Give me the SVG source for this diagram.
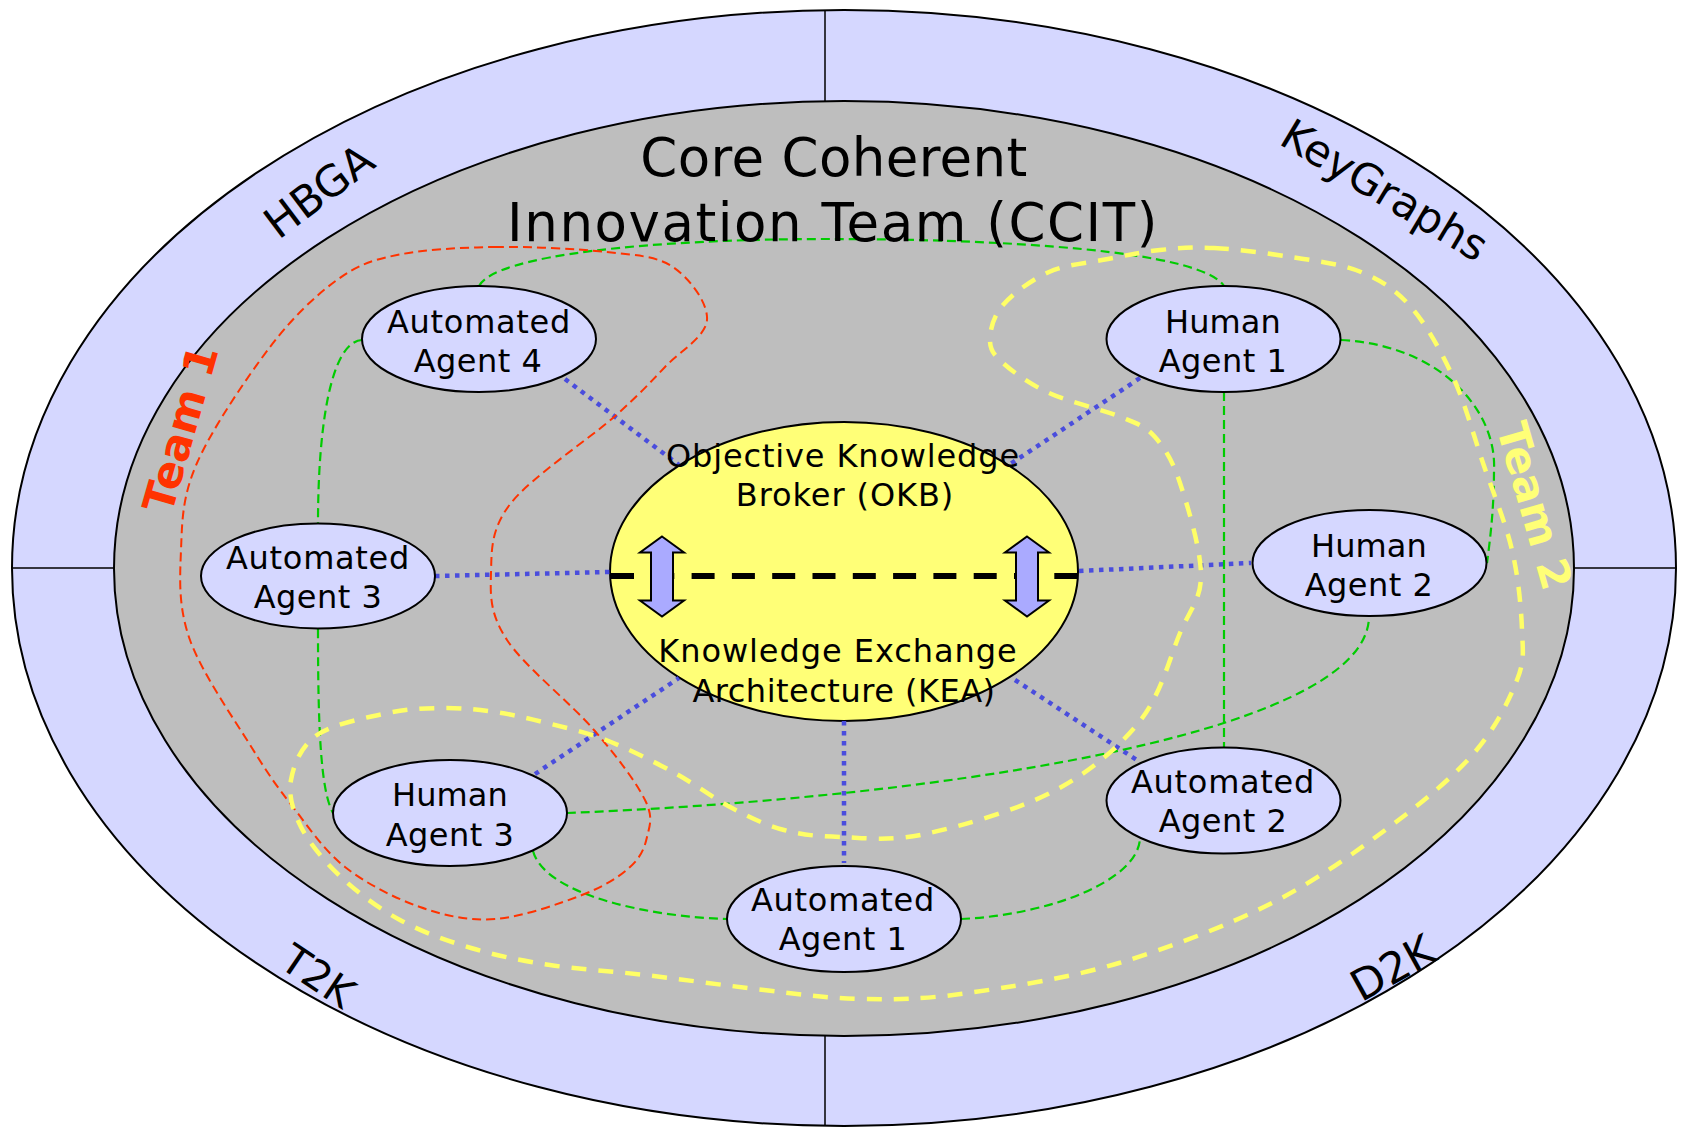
<svg xmlns="http://www.w3.org/2000/svg" width="1687" height="1128" viewBox="0 0 1687 1128">
<style>
text{font-family:"DejaVu Sans",Verdana,sans-serif;fill:#000;text-anchor:middle}
.n{font-size:32px;letter-spacing:.5px}
.h{letter-spacing:.1px}
.a{letter-spacing:.7px}
.s{font-size:43px}
.t{font-size:53px}
.team{font-size:43px;font-weight:bold}
.node{fill:#d5d7ff;stroke:#000;stroke-width:2}
.g{fill:none;stroke:#00cc00;stroke-width:2.2;stroke-dasharray:9 5}
.b{fill:none;stroke:#4a4ddd;stroke-width:4.5;stroke-dasharray:4.5 5.5}
.arr{fill:#aaaaff;stroke:#000;stroke-width:2}
.l{stroke:#000;stroke-width:1.5}
</style>
<defs>
<path id="arrow" d="M0,-40 L22,-24 L11,-24 L11,24 L22,24 L0,40 L-22,24 L-11,24 L-11,-24 L-22,-24 Z"/>
</defs>
<rect width="1687" height="1128" fill="#fff"/>
<g id="background">
<ellipse cx="844" cy="568" rx="832" ry="558" fill="#d5d7ff" stroke="#000" stroke-width="2"/>
<path class="l" d="M825,10V1126M12,568H1676"/>
<ellipse cx="844" cy="568.5" rx="730" ry="467.5" fill="#bebebe" stroke="#000" stroke-width="2"/>
</g>
<g id="okb">
<ellipse cx="844" cy="571.5" rx="234" ry="149.5" fill="#ffff77" stroke="#000" stroke-width="2"/>
<path d="M611,576H1077" stroke="#000" stroke-width="6" stroke-dasharray="23 17.3" fill="none"/>
<use href="#arrow" class="arr" x="662" y="576.5"/>
<use href="#arrow" class="arr" x="1027" y="576.5"/>
</g>
<g id="connectors">
<path class="b" d="M565,379L679,465M1140,378L1009,465M435,576L610,572M1079,571L1251,563M535,774L679,678M844,721V863M1015,680L1140,762"/>
<path class="g" d="M479,286C495,255 650,239 828,239C1000,239 1200,250 1224,286"/>
<path class="g" d="M362,340C330,342 318,430 318,523"/>
<path class="g" d="M318,629C318,720 320,790 333,813"/>
<path class="g" d="M567,813C900,800 1369,740 1369,616"/>
<path class="g" d="M533,851C545,895 650,917 728,919"/>
<path class="g" d="M961,919C1050,915 1140,880 1140,837"/>
<path class="g" d="M1224,392V748"/>
<path class="g" d="M1341,340C1440,345 1497,410 1494,470C1494,510 1490,540 1487,563"/>
<path id="team1-boundary" fill="none" stroke="#ff3300" stroke-width="2" stroke-dasharray="9 5" d="M495,247C529.8,246.5 576.3,248.7 606,252C635.7,255.3 656.2,255.7 673,267C689.8,278.3 708.3,303.3 707,320C705.7,336.7 680.5,350.8 665,367C649.5,383.2 639.7,394.3 614,417C588.3,439.7 531.5,477 511,503C490.5,529 491.7,550.2 491,573C490.3,595.8 489.8,613.8 507,640C524.2,666.2 571,703.3 594,730C617,756.7 636.2,782.2 645,800C653.8,817.8 649.5,825.8 647,837C644.5,848.2 640.8,857.3 630,867C619.2,876.7 604.5,886.3 582,895C559.5,903.7 522,917 495,919C468,921 445,915.7 420,907C395,898.3 366.2,883.7 345,867C323.8,850.3 308.5,826.8 293,807C277.5,787.2 269.2,775.8 252,748C234.8,720.2 201.8,673 190,640C178.2,607 179.8,579.5 181,550C182.2,520.5 182.2,496.8 197,463C211.8,429.2 246.7,377.5 270,347C293.3,316.5 315.8,295.3 337,280C358.2,264.7 370.7,260.5 397,255C423.3,249.5 460.2,247.5 495,247Z"/>
<path id="team2-boundary" fill="none" stroke="#ffff66" stroke-width="4.5" stroke-dasharray="15 12" d="M1214,248C1235.8,249.2 1266.5,253 1291,257C1315.5,261 1341,263.7 1361,272C1381,280.3 1395.7,289.5 1411,307C1426.3,324.5 1441,351 1453,377C1465,403 1473.2,434.2 1483,463C1492.8,491.8 1505.5,522.2 1512,550C1518.5,577.8 1521.2,608.3 1522,630C1522.8,651.7 1525,659.5 1517,680C1509,700.5 1495.5,728.3 1474,753C1452.5,777.7 1422,802.8 1388,828C1354,853.2 1314.8,881.5 1270,904C1225.2,926.5 1169.3,947.8 1119,963C1068.7,978.2 1011,986.8 968,993C925,999.2 895,999.8 861,999C827,998.2 800,994.2 764,990C728,985.8 680.7,979.2 645,975C609.3,970.8 579,969.5 550,965C521,960.5 496,955.5 471,948C446,940.5 421.7,931.8 400,920C378.3,908.2 357.5,892.5 341,877C324.5,861.5 309.3,843.2 301,827C292.7,810.8 288.3,795.3 291,780C293.7,764.7 300.8,746.2 317,735C333.2,723.8 366.8,717.5 388,713C409.2,708.5 426.2,708.2 444,708C461.8,707.8 477.8,709.5 495,712C512.2,714.5 528.5,718.3 547,723C565.5,727.7 585,731.8 606,740C627,748.2 652,760.7 673,772C694,783.3 713.5,798.3 732,808C750.5,817.7 766,825.2 784,830C802,834.8 816.5,836.3 840,837C863.5,837.7 889.3,841.7 925,834C960.7,826.3 1018.2,809.8 1054,791C1089.8,772.2 1119,747.3 1140,721C1161,694.7 1169.8,657.3 1180,633C1190.2,608.7 1201,600 1201,575C1201,550 1187.7,506 1180,483C1172.3,460 1164.8,448 1155,437C1145.2,426 1138.7,424.3 1121,417C1103.3,409.7 1068.7,402 1049,393C1029.3,384 1012.8,371.8 1003,363C993.2,354.2 990,349.7 990,340C990,330.3 993.2,316.3 1003,305C1012.8,293.7 1031.5,279.7 1049,272C1066.5,264.3 1089.5,262.7 1108,259C1126.5,255.3 1142.3,251.8 1160,250C1177.7,248.2 1192.2,246.8 1214,248Z"/>
</g>
<g id="okb-labels">
<text class="n" style="letter-spacing:.85px" x="843" y="467">Objective Knowledge</text>
<text class="n" style="letter-spacing:.9px" x="845" y="506">Broker (OKB)</text>
<text class="n" style="letter-spacing:.95px" x="838" y="662">Knowledge Exchange</text>
<text class="n" x="844" y="702">Architecture (KEA)</text>
</g>
<g id="automated-agent-4"><ellipse class="node" cx="479" cy="339" rx="117" ry="53"/><text class="n a" x="479" y="333">Automated</text><text class="n" x="478" y="372">Agent 4</text></g>
<g id="automated-agent-3"><ellipse class="node" cx="318" cy="576" rx="117" ry="52.5"/><text class="n a" x="318" y="569">Automated</text><text class="n" x="318" y="608">Agent 3</text></g>
<g id="human-agent-1"><ellipse class="node" cx="1223.5" cy="339" rx="117" ry="53"/><text class="n h" x="1223" y="333">Human</text><text class="n" x="1223" y="372">Agent 1</text></g>
<g id="human-agent-2"><ellipse class="node" cx="1369.5" cy="563" rx="117" ry="53"/><text class="n h" x="1369" y="557">Human</text><text class="n" x="1369" y="596">Agent 2</text></g>
<g id="human-agent-3"><ellipse class="node" cx="450" cy="813" rx="117" ry="53"/><text class="n h" x="450" y="806">Human</text><text class="n" x="450" y="846">Agent 3</text></g>
<g id="automated-agent-1"><ellipse class="node" cx="844" cy="919" rx="117" ry="53"/><text class="n a" x="843" y="911">Automated</text><text class="n" x="843" y="950">Agent 1</text></g>
<g id="automated-agent-2"><ellipse class="node" cx="1223.5" cy="800.5" rx="117" ry="53"/><text class="n a" x="1223" y="793">Automated</text><text class="n" x="1223" y="832">Agent 2</text></g>
<g id="labels">
<text class="t" style="letter-spacing:.35px" x="834" y="176">Core Coherent</text>
<text class="t" style="letter-spacing:1.55px" x="833" y="241">Innovation Team (CCIT)</text>
<text class="s" transform="translate(328,203) rotate(-37)">HBGA</text>
<text class="s" transform="translate(1377,203) rotate(31)">KeyGraphs</text>
<text class="s" style="font-size:41px" transform="translate(310,988) rotate(34)">T2K</text>
<text class="s" transform="translate(1400,981) rotate(-29)">D2K</text>
<text class="team" style="fill:#ff3300" transform="translate(195,433) rotate(-74)">Team 1</text>
<text class="team" style="fill:#ffff77" transform="translate(1520,510) rotate(74)">Team 2</text>
</g>
</svg>
